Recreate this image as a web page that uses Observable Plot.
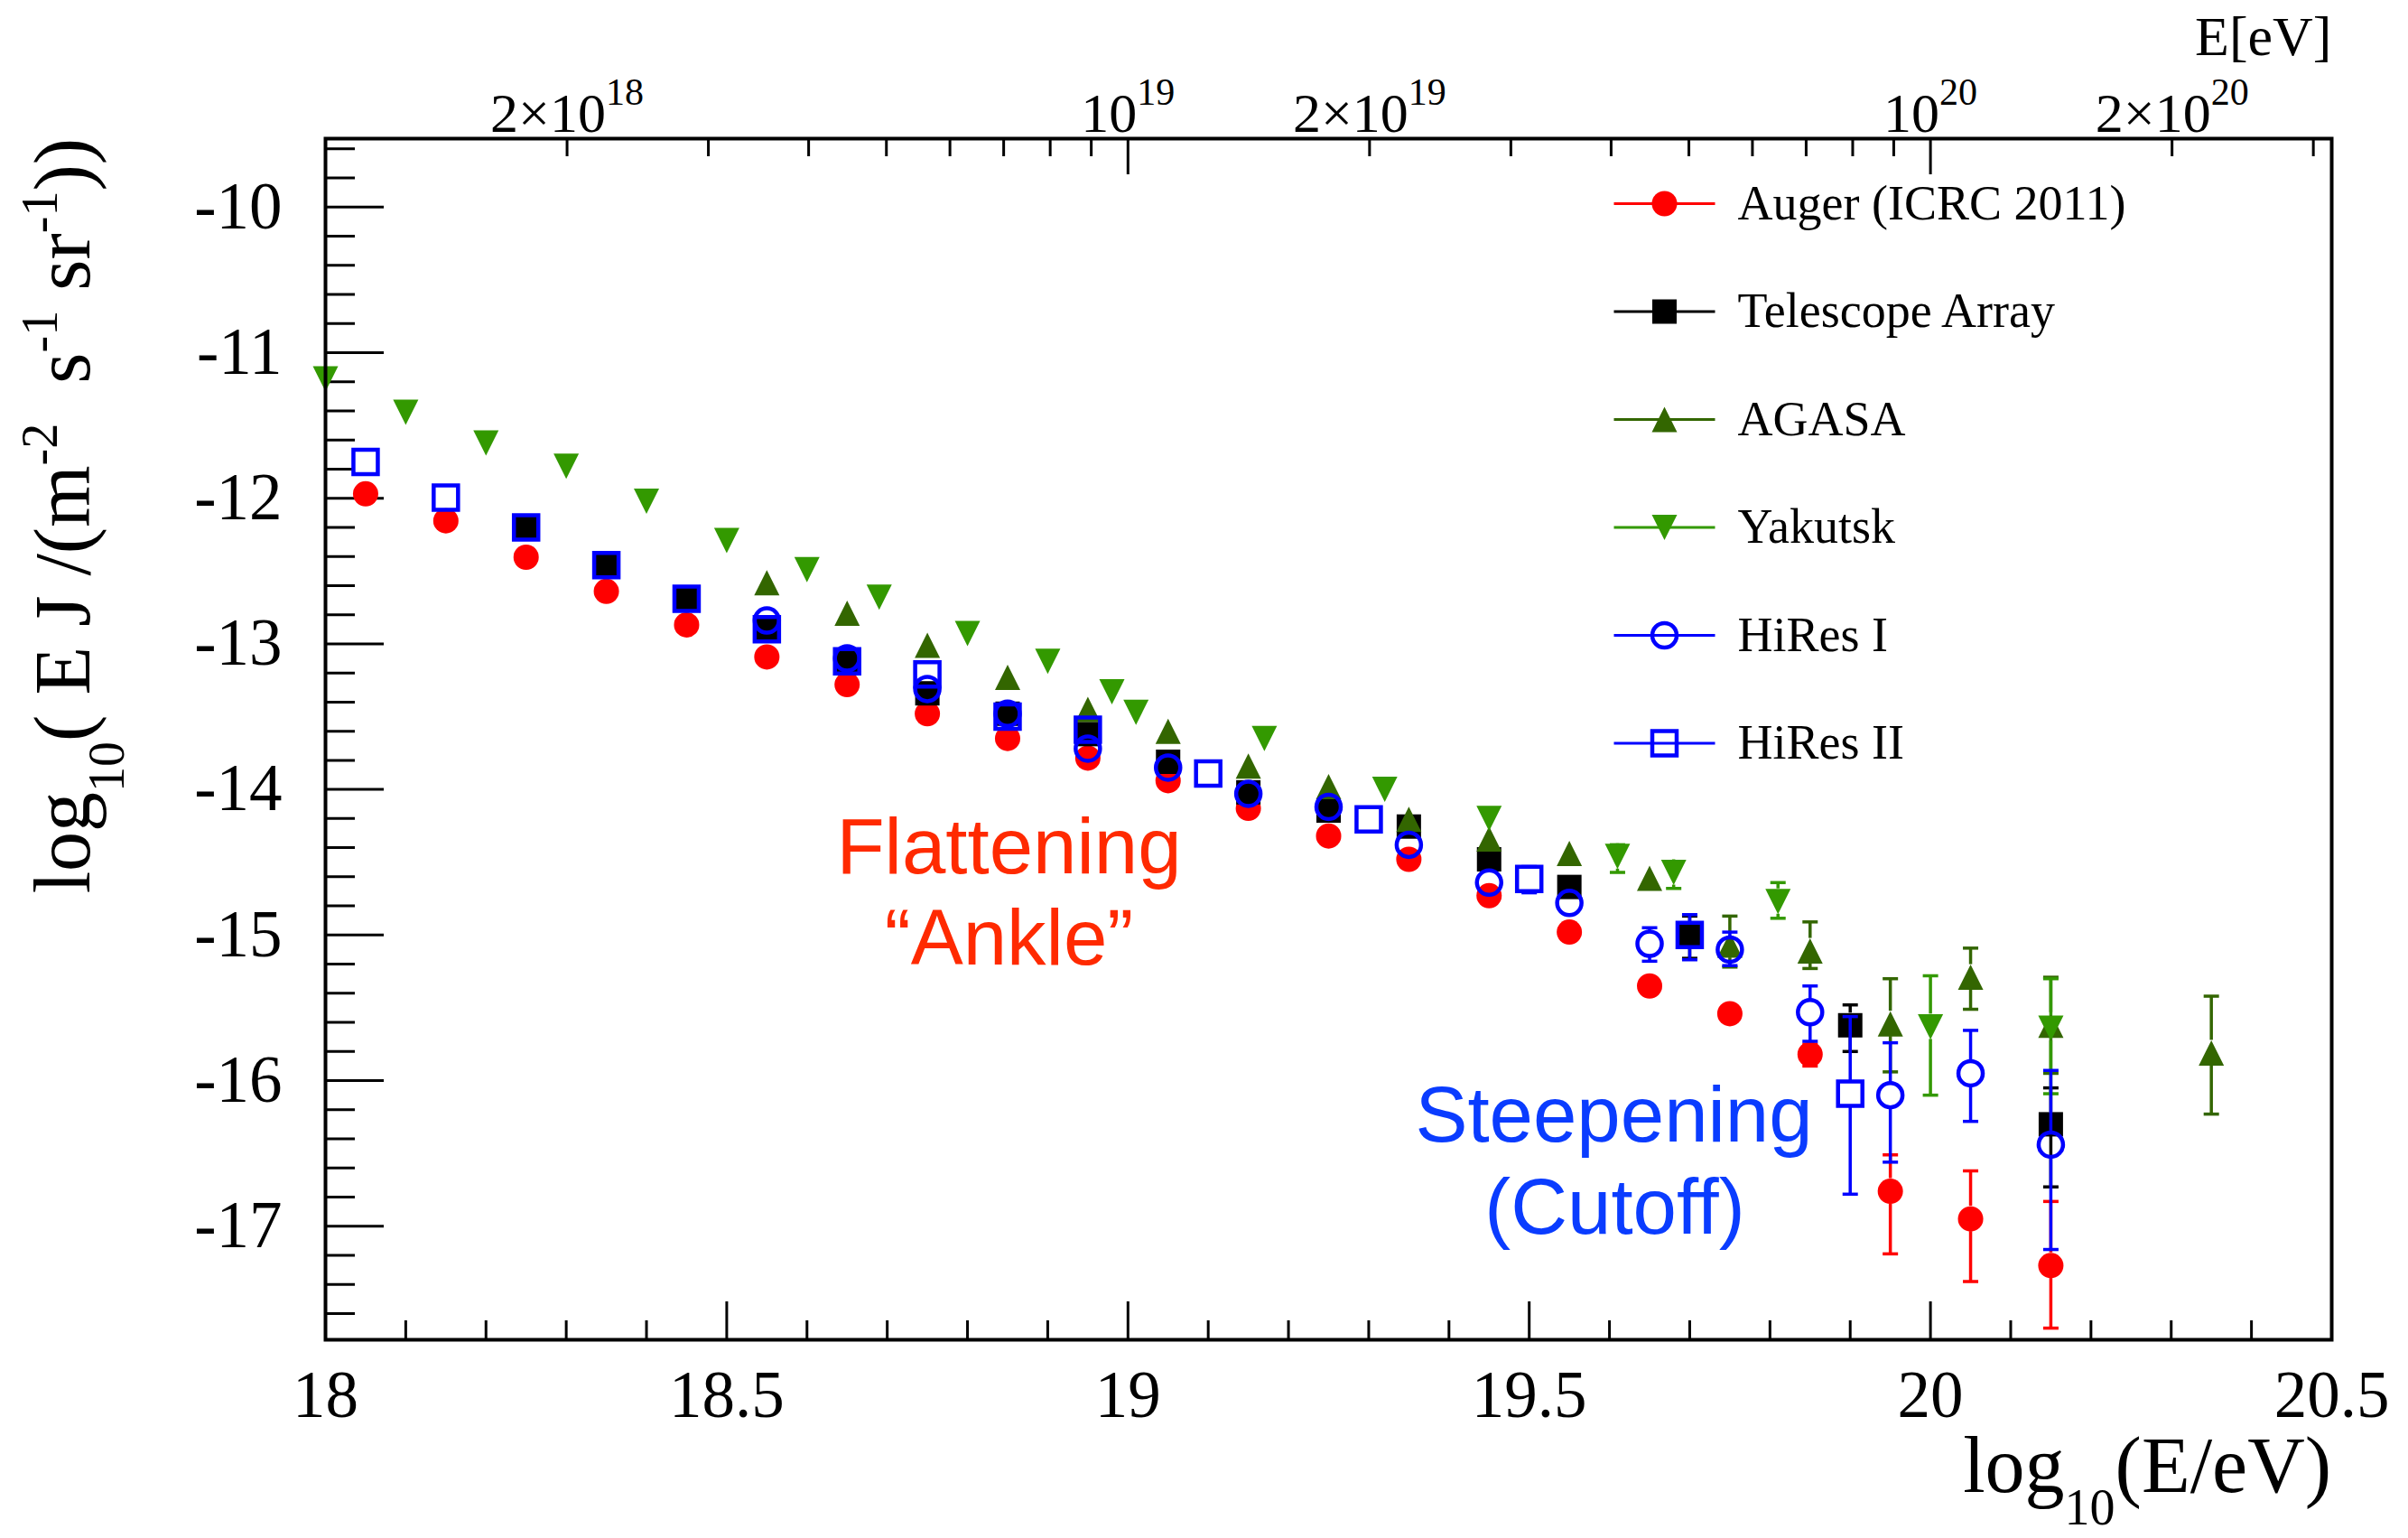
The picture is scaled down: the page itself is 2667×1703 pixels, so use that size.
<!DOCTYPE html>
<html>
<head>
<meta charset="utf-8">
<script src="https://cdn.jsdelivr.net/npm/d3@7"></script>
<script src="https://cdn.jsdelivr.net/npm/@observablehq/plot@0.6"></script>
<style>
html, body { margin: 0; padding: 0; background: #ffffff; overflow: hidden; }
#chart { width: 2667px; height: 1703px; }
</style>
</head>
<body>
<div id="chart"></div>
<script>
// ---------------- data (log10 E [eV], log10 flux) ----------------
const augerE    = [18.05, 18.15, 18.25, 18.35, 18.45, 18.55, 18.65, 18.75, 18.85, 18.95, 19.05, 19.15, 19.25, 19.35, 19.45, 19.55, 19.65, 19.75, 19.85, 19.95, 20.05, 20.15];
const augerFlux = [-11.97, -12.155, -12.405, -12.64, -12.87, -13.09, -13.28, -13.48, -13.65, -13.785, -13.94, -14.13, -14.32, -14.48, -14.73, -14.98, -15.35, -15.54, -15.82, -16.76, -16.95, -17.27];
const augerLo   = [null, null, null, null, null, null, null, null, null, null, null, null, null, null, null, null, null, null, -15.90, -17.19, -17.38, -17.70];
const augerHi   = [null, null, null, null, null, null, null, null, null, null, null, null, null, null, null, null, null, null, -15.75, -16.51, -16.62, -16.83];

const taE    = [18.25, 18.35, 18.45, 18.55, 18.65, 18.75, 18.85, 18.95, 19.05, 19.15, 19.25, 19.35, 19.45, 19.55, 19.70, 19.90, 20.15];
const taFlux = [-12.20, -12.45, -12.69, -12.895, -13.12, -13.34, -13.48, -13.62, -13.81, -14.02, -14.145, -14.255, -14.48, -14.67, -15.00, -15.62, -16.30];
const taLo   = [null, null, null, null, null, null, null, null, null, null, null, null, null, null, -15.16, -15.80, -16.73];
const taHi   = [null, null, null, null, null, null, null, null, null, null, null, null, null, null, -14.87, -15.48, -16.05];

const agasaE    = [18.55, 18.65, 18.75, 18.85, 18.95, 19.05, 19.15, 19.25, 19.35, 19.45, 19.55, 19.65, 19.75, 19.85, 19.95, 20.05, 20.15, 20.35];
const agasaFlux = [-12.58, -12.79, -13.01, -13.23, -13.45, -13.60, -13.84, -13.98, -14.205, -14.34, -14.44, -14.61, -15.07, -15.11, -15.61, -15.29, -15.62, -15.81];
const agasaLo   = [null, null, null, null, null, null, null, null, null, null, null, null, -15.22, -15.23, -15.94, -15.51, -15.95, -16.23];
const agasaHi   = [null, null, null, null, null, null, null, null, null, null, null, null, -14.87, -14.91, -15.30, -15.09, -15.29, -15.42];

const yakutskE    = [18.00, 18.10, 18.20, 18.30, 18.40, 18.50, 18.60, 18.69, 18.80, 18.90, 18.98, 19.01, 19.17, 19.32, 19.45, 19.61, 19.68, 19.81, 20.00, 20.15];
const yakutskFlux = [-11.18, -11.41, -11.62, -11.78, -12.02, -12.29, -12.49, -12.68, -12.93, -13.12, -13.33, -13.47, -13.65, -14.00, -14.20, -14.46, -14.57, -14.77, -15.63, -15.64];
const yakutskLo   = [null, null, null, null, null, null, null, null, null, null, null, null, null, null, null, -14.57, -14.68, -14.885, -16.10, -16.09];
const yakutskHi   = [null, null, null, null, null, null, null, null, null, null, null, null, null, null, null, -14.38, -14.505, -14.64, -15.28, -15.30];

const hires1E    = [18.55, 18.65, 18.75, 18.85, 18.95, 19.05, 19.15, 19.25, 19.35, 19.45, 19.55, 19.65, 19.75, 19.85, 19.95, 20.05, 20.15];
const hires1Flux = [-12.84, -13.10, -13.31, -13.48, -13.72, -13.85, -14.03, -14.12, -14.38, -14.64, -14.78, -15.06, -15.10, -15.53, -16.10, -15.95, -16.44];
const hires1Lo   = [null, null, null, null, null, null, null, null, null, null, null, -15.18, -15.21, -15.73, -16.56, -16.28, -17.16];
const hires1Hi   = [null, null, null, null, null, null, null, null, null, null, null, -14.95, -14.98, -15.35, -15.74, -15.655, -15.93];

const hires2E    = [18.05, 18.15, 18.25, 18.35, 18.45, 18.55, 18.65, 18.75, 18.85, 18.95, 19.10, 19.30, 19.50, 19.70, 19.90];
const hires2Flux = [-11.75, -11.995, -12.20, -12.46, -12.69, -12.90, -13.12, -13.21, -13.50, -13.59, -13.89, -14.205, -14.615, -15.00, -16.09];
const hires2Lo   = [null, null, null, null, null, null, null, null, null, null, null, null, -14.71, -15.17, -16.78];
const hires2Hi   = [null, null, null, null, null, null, null, null, null, null, null, null, -14.53, -14.86, -15.56];

const seriesNames = ["Auger (ICRC 2011)", "Telescope Array", "AGASA", "Yakutsk", "HiRes I", "HiRes II"];

// tick labels
const xTickLabels = [18, 18.5, 19, 19.5, 20, 20.5];
const yTickLabels = [-10, -11, -12, -13, -14, -15, -16, -17];
const topTickLabels = [
  {e: 2e18, mant: "2\u00d710", exp: "18"},
  {e: 1e19, mant: "10", exp: "19"},
  {e: 2e19, mant: "2\u00d710", exp: "19"},
  {e: 1e20, mant: "10", exp: "20"},
  {e: 2e20, mant: "2\u00d710", exp: "20"}
];

// ---------------- layout ----------------
const W = 2667, H = 1703, ML = 360, MR = 85, MT = 153, MB = 220;
const XD = [18, 20.5], YD = [-17.78, -9.53];
const PW = W - ML - MR, PH = H - MT - MB;
const px2x = px => XD[0] + (px - ML) / PW * (XD[1] - XD[0]);
const px2y = py => YD[1] - (py - MT) / PH * (YD[1] - YD[0]);

const SERIF = "'Liberation Serif', 'Times New Roman', serif";
const SANS = "'Liberation Sans', Arial, sans-serif";

// custom marker shapes (size = r^2 * PI in Plot)
const sym = fn => ({draw(ctx, size) { const r = Math.sqrt(size / Math.PI); fn(ctx, r); }});
const symCircle = sym((c, r) => { c.moveTo(r, 0); c.arc(0, 0, r, 0, 2 * Math.PI); c.closePath(); });
const symSquare = sym((c, r) => { c.moveTo(-r, -r); c.lineTo(r, -r); c.lineTo(r, r); c.lineTo(-r, r); c.closePath(); });
const symUp = sym((c, r) => { c.moveTo(0, -r); c.lineTo(r, r); c.lineTo(-r, r); c.closePath(); });
const symDown = sym((c, r) => { c.moveTo(0, r); c.lineTo(r, -r); c.lineTo(-r, -r); c.closePath(); });
const symHLine = sym((c, r) => { c.moveTo(-r, 0); c.lineTo(r, 0); });

const series = [
  {name: seriesNames[0], x: augerE, y: augerFlux, lo: augerLo, hi: augerHi, color: "#ff0000", symbol: symCircle, filled: true, r: 14},
  {name: seriesNames[1], x: taE, y: taFlux, lo: taLo, hi: taHi, color: "#000000", symbol: symSquare, filled: true, r: 13.5},
  {name: seriesNames[2], x: agasaE, y: agasaFlux, lo: agasaLo, hi: agasaHi, color: "#336600", symbol: symUp, filled: true, r: 14},
  {name: seriesNames[3], x: yakutskE, y: yakutskFlux, lo: yakutskLo, hi: yakutskHi, color: "#339900", symbol: symDown, filled: true, r: 14},
  {name: seriesNames[4], x: hires1E, y: hires1Flux, lo: hires1Lo, hi: hires1Hi, color: "#0000ff", symbol: symCircle, filled: false, r: 13.5},
  {name: seriesNames[5], x: hires2E, y: hires2Flux, lo: hires2Lo, hi: hires2Hi, color: "#0000ff", symbol: symSquare, filled: false, r: 13.5}
];

function markerStyle(s) {
  return s.filled
    ? {fill: s.color, stroke: "none"}
    : {fill: "none", stroke: s.color, strokeWidth: 4.5};
}

function seriesMarks(s) {
  const rows = s.x.map((x, i) => ({x, y: s.y[i], lo: s.lo[i], hi: s.hi[i]}));
  const err = rows.filter(d => d.lo != null && d.hi != null);
  const g = s.r;
  return [
    Plot.ruleX(err, {x: "x", y1: "hi", y2: "y", stroke: s.color, strokeWidth: 3.5, insetBottom: g}),
    Plot.ruleX(err, {x: "x", y1: "y", y2: "lo", stroke: s.color, strokeWidth: 3.5, insetTop: g}),
    Plot.dot(err, {x: "x", y: "hi", symbol: symHLine, r: 8.5, fill: "none", stroke: s.color, strokeWidth: 3.5}),
    Plot.dot(err, {x: "x", y: "lo", symbol: symHLine, r: 8.5, fill: "none", stroke: s.color, strokeWidth: 3.5}),
    Plot.dot(rows, {x: "x", y: "y", symbol: s.symbol, r: s.r, ...markerStyle(s)})
  ];
}

// ticks
const xMinor = d3.range(181, 205).map(v => v / 10).filter(v => Math.abs(v * 2 - Math.round(v * 2)) > 1e-6);
const xMajor = xTickLabels;
const yMinor = d3.range(-176, -95, 2).map(v => v / 10).filter(v => Math.abs(v - Math.round(v)) > 1e-6);
const yMajor = yTickLabels;
const topMinor = [];
for (const k of [18, 19, 20]) for (let n = 2; n <= 9; n++) { const v = Math.log10(n) + k; if (v < 20.5) topMinor.push(v); }
const topMajor = [19, 20];

const legendMarks = [];
series.forEach((s, i) => {
  const yv = px2y(225 + 119.5 * i);
  legendMarks.push(Plot.dot([0], {x: () => px2x(1843), y: () => yv, symbol: symHLine, r: 56, fill: "none", stroke: s.color, strokeWidth: 3}));
  legendMarks.push(Plot.dot([0], {x: () => px2x(1843), y: () => yv, symbol: s.symbol, r: s.r, ...markerStyle(s)}));
  legendMarks.push(Plot.text([s.name], {x: () => px2x(1924), y: () => yv, text: d => d, textAnchor: "start", lineAnchor: "middle", fontSize: 54, fontFamily: SERIF, fill: "black"}));
});

const groupA = topTickLabels.filter(d => d.mant !== "10");
const groupB = topTickLabels.filter(d => d.mant === "10");

const plot = Plot.plot({
  width: W, height: H,
  marginLeft: ML, marginRight: MR, marginTop: MT, marginBottom: MB,
  x: {domain: XD, axis: null},
  y: {domain: YD, axis: null},
  style: {background: "white", fontFamily: SERIF, color: "black"},
  marks: [
    // ticks (inside the frame)
    Plot.tickX(xMinor, {x: d => d, insetTop: PH - 21, stroke: "black", strokeWidth: 3}),
    Plot.tickX(xMajor, {x: d => d, insetTop: PH - 42, stroke: "black", strokeWidth: 3}),
    Plot.tickY(yMinor, {y: d => d, insetRight: PW - 33, stroke: "black", strokeWidth: 3}),
    Plot.tickY(yMajor, {y: d => d, insetRight: PW - 65, stroke: "black", strokeWidth: 3}),
    Plot.tickX(topMinor, {x: d => d, insetBottom: PH - 20, stroke: "black", strokeWidth: 3}),
    Plot.tickX(topMajor, {x: d => d, insetBottom: PH - 40, stroke: "black", strokeWidth: 3}),
    // tick labels
    Plot.text(xTickLabels, {x: d => d, text: d => String(d), frameAnchor: "bottom", lineAnchor: "bottom", dy: 85, fontSize: 73, fontFamily: SERIF, fill: "black"}),
    Plot.text(yTickLabels, {y: d => d, text: d => String(d), frameAnchor: "left", textAnchor: "end", lineAnchor: "middle", dx: -48, fontSize: 73, fontFamily: SERIF, fill: "black"}),
    Plot.text(groupA, {x: d => Math.log10(d.e), text: "mant", frameAnchor: "top", textAnchor: "end", lineAnchor: "bottom", dx: 43, dy: -8, fontSize: 62, fontFamily: SERIF, fill: "black"}),
    Plot.text(groupA, {x: d => Math.log10(d.e), text: "exp", frameAnchor: "top", textAnchor: "start", lineAnchor: "bottom", dx: 43, dy: -38, fontSize: 42, fontFamily: SERIF, fill: "black"}),
    Plot.text(groupB, {x: d => Math.log10(d.e), text: "mant", frameAnchor: "top", textAnchor: "end", lineAnchor: "bottom", dx: 10, dy: -8, fontSize: 62, fontFamily: SERIF, fill: "black"}),
    Plot.text(groupB, {x: d => Math.log10(d.e), text: "exp", frameAnchor: "top", textAnchor: "start", lineAnchor: "bottom", dx: 10, dy: -38, fontSize: 42, fontFamily: SERIF, fill: "black"}),
    Plot.text(["E[eV]"], {frameAnchor: "top-right", textAnchor: "end", lineAnchor: "bottom", dy: -93, fontSize: 62, fontFamily: SERIF, fill: "black"}),
    // data
    ...series.flatMap(seriesMarks),
    // legend
    ...legendMarks,
    // annotations
    Plot.text(["Flattening"], {frameAnchor: "top-left", dx: 757, dy: 813, textAnchor: "middle", lineAnchor: "bottom", fontSize: 87, fontFamily: SANS, fill: "#ff2a00"}),
    Plot.text(["\u201cAnkle\u201d"], {frameAnchor: "top-left", dx: 757, dy: 914, textAnchor: "middle", lineAnchor: "bottom", fontSize: 87, fontFamily: SANS, fill: "#ff2a00"}),
    Plot.text(["Steepening"], {frameAnchor: "top-left", dx: 1427, dy: 1110, textAnchor: "middle", lineAnchor: "bottom", fontSize: 87, fontFamily: SANS, fill: "#0a3cff"}),
    Plot.text(["(Cutoff)"], {frameAnchor: "top-left", dx: 1428, dy: 1212, textAnchor: "middle", lineAnchor: "bottom", fontSize: 87, fontFamily: SANS, fill: "#0a3cff"}),
    Plot.frame({stroke: "black", strokeWidth: 4})
  ]
});

document.getElementById("chart").appendChild(plot);

// axis titles with sub/superscripts
const svg = d3.select(plot);
const yt = svg.append("text")
  .attr("transform", `translate(99,${MT}) rotate(-90)`)
  .attr("text-anchor", "end")
  .attr("fill", "black")
  .style("font-family", SERIF).style("font-size", "88px").style("white-space", "pre");
yt.append("tspan").text("log");
yt.append("tspan").attr("dy", "38px").style("font-size", "56px").text("10");
yt.append("tspan").attr("dy", "-38px").text("( E J /(m");
yt.append("tspan").attr("dy", "-36px").style("font-size", "56px").text("-2");
yt.append("tspan").attr("dy", "36px").text("  s");
yt.append("tspan").attr("dy", "-36px").style("font-size", "56px").text("-1");
yt.append("tspan").attr("dy", "36px").text(" sr");
yt.append("tspan").attr("dy", "-36px").style("font-size", "56px").text("-1");
yt.append("tspan").attr("dy", "36px").text("))");

const xt = svg.append("text")
  .attr("x", W - MR).attr("y", 1652)
  .attr("text-anchor", "end")
  .attr("fill", "black")
  .style("font-family", SERIF).style("font-size", "88px").style("white-space", "pre");
xt.append("tspan").text("log");
xt.append("tspan").attr("dy", "36px").style("font-size", "56px").text("10");
xt.append("tspan").attr("dy", "-36px").text("(E/eV)");
</script>
</body>
</html>
